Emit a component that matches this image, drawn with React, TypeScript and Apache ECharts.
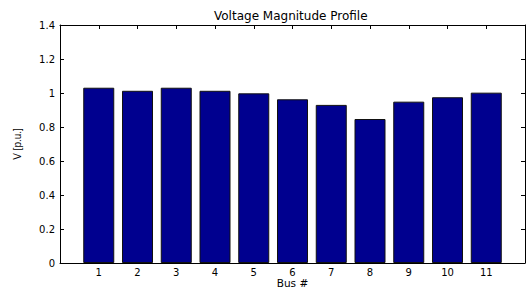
import React, { useEffect, useRef } from "react";
import * as echarts from "echarts";

const busNumbers = [1, 2, 3, 4, 5, 6, 7, 8, 9, 10, 11];
const voltages = [1.031, 1.013, 1.031, 1.013, 0.998, 0.963, 0.93, 0.847, 0.949, 0.975, 1.002];
const titleText = "Voltage Magnitude Profile";
const xName = "Bus #";
const yName = "V [p.u.]";

export default function App() {
  const ref = useRef<HTMLDivElement>(null);
  useEffect(() => {
    const chart = echarts.init(ref.current!, null, { renderer: "svg" });
    const axisLine = { show: true, onZero: false, lineStyle: { color: "#000", width: 1 } };
    const tick = { show: true, inside: true, length: 4, lineStyle: { color: "#000", width: 1 } };
    const font = "DejaVu Sans";
    chart.setOption({
      animation: false,
      backgroundColor: "#fff",
      title: {
        text: titleText,
        left: 209,
        top: 5,
        textStyle: { fontFamily: font, fontSize: 12, fontWeight: "normal", color: "#000" },
      },
      grid: {
        left: 60,
        right: 6,
        top: 25,
        bottom: 25,
        containLabel: false,
        outerBoundsMode: "none",
      },
      xAxis: [
        {
          type: "value",
          min: 0,
          max: 12,
          interval: 1,
          position: "bottom",
          axisLine,
          axisTick: tick,
          splitLine: { show: false },
          axisLabel: {
            color: "#000",
            fontFamily: font,
            fontSize: 10,
            margin: 4,
            formatter: (v: number) => (busNumbers.includes(v) ? String(v) : ""),
          },
          name: xName,
          nameLocation: "middle",
          nameGap: 14,
          nameMoveOverlap: false,
          nameTextStyle: { color: "#000", fontFamily: font, fontSize: 10.5 },
        },
        {
          type: "value",
          min: 0,
          max: 12,
          interval: 1,
          position: "top",
          axisLine,
          axisTick: tick,
          splitLine: { show: false },
          axisLabel: { show: false },
        },
      ],
      yAxis: [
        {
          type: "value",
          min: 0,
          max: 1.4,
          interval: 0.2,
          position: "left",
          axisLine,
          axisTick: tick,
          splitLine: { show: false },
          axisLabel: { color: "#000", fontFamily: font, fontSize: 10, margin: 5 },
          name: yName,
          nameLocation: "middle",
          nameGap: 38,
          nameMoveOverlap: false,
          nameRotate: 90,
          nameTextStyle: { color: "#000", fontFamily: "Liberation Sans", fontSize: 10 },
        },
        {
          type: "value",
          min: 0,
          max: 1.4,
          interval: 0.2,
          position: "right",
          axisLine,
          axisTick: tick,
          splitLine: { show: false },
          axisLabel: { show: false },
        },
      ],
      series: [
        {
          type: "bar",
          xAxisIndex: 0,
          yAxisIndex: 0,
          barWidth: "80%",
          data: busNumbers.map((b, i) => [b, voltages[i]]),
          itemStyle: { color: "#00008F", borderColor: "#111", borderWidth: 1 },
        },
      ],
    });
    return () => chart.dispose();
  }, []);
  return (
    <div
      ref={ref}
      style={{ position: "absolute", left: 0, top: 0, width: 531, height: 288 }}
    />
  );
}
